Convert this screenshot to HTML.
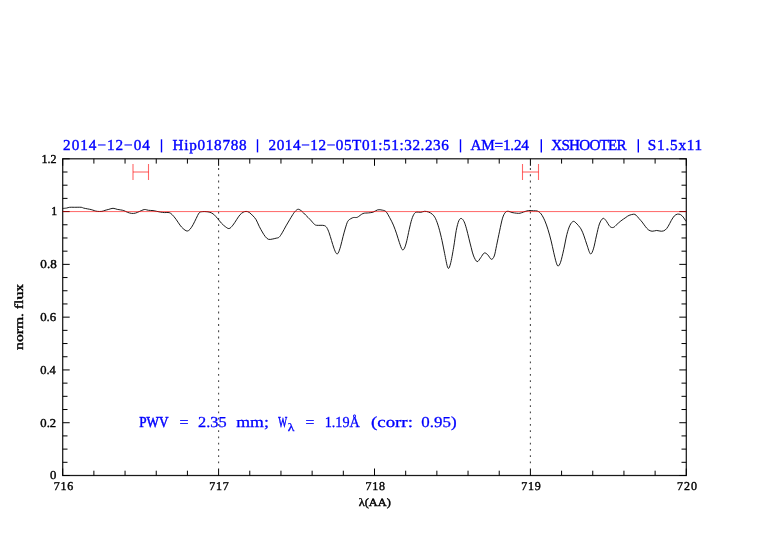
<!DOCTYPE html>
<html><head><meta charset="utf-8"><style>
html,body{margin:0;padding:0;background:#fff;width:782px;height:542px;overflow:hidden}
#w{position:absolute;left:0;top:0;will-change:transform}
svg{display:block;font-family:"Liberation Serif", serif;text-rendering:geometricPrecision}
</style></head><body>
<div id="w"><svg width="782" height="542" viewBox="0 0 782 542">
<rect x="62.7" y="158.8" width="623.5999999999999" height="316.7" fill="none" stroke="#1a1a1a" stroke-width="1.25"/>
<line x1="62.70" y1="475.5" x2="62.70" y2="468.5" stroke="#000" stroke-width="1.0"/>
<line x1="62.70" y1="158.8" x2="62.70" y2="165.8" stroke="#000" stroke-width="1.0"/>
<line x1="93.88" y1="475.5" x2="93.88" y2="470.7" stroke="#000" stroke-width="1.0"/>
<line x1="93.88" y1="158.8" x2="93.88" y2="163.60000000000002" stroke="#000" stroke-width="1.0"/>
<line x1="125.06" y1="475.5" x2="125.06" y2="470.7" stroke="#000" stroke-width="1.0"/>
<line x1="125.06" y1="158.8" x2="125.06" y2="163.60000000000002" stroke="#000" stroke-width="1.0"/>
<line x1="156.24" y1="475.5" x2="156.24" y2="470.7" stroke="#000" stroke-width="1.0"/>
<line x1="156.24" y1="158.8" x2="156.24" y2="163.60000000000002" stroke="#000" stroke-width="1.0"/>
<line x1="187.42" y1="475.5" x2="187.42" y2="470.7" stroke="#000" stroke-width="1.0"/>
<line x1="187.42" y1="158.8" x2="187.42" y2="163.60000000000002" stroke="#000" stroke-width="1.0"/>
<line x1="218.60" y1="475.5" x2="218.60" y2="468.5" stroke="#000" stroke-width="1.0"/>
<line x1="218.60" y1="158.8" x2="218.60" y2="165.8" stroke="#000" stroke-width="1.0"/>
<line x1="249.78" y1="475.5" x2="249.78" y2="470.7" stroke="#000" stroke-width="1.0"/>
<line x1="249.78" y1="158.8" x2="249.78" y2="163.60000000000002" stroke="#000" stroke-width="1.0"/>
<line x1="280.96" y1="475.5" x2="280.96" y2="470.7" stroke="#000" stroke-width="1.0"/>
<line x1="280.96" y1="158.8" x2="280.96" y2="163.60000000000002" stroke="#000" stroke-width="1.0"/>
<line x1="312.14" y1="475.5" x2="312.14" y2="470.7" stroke="#000" stroke-width="1.0"/>
<line x1="312.14" y1="158.8" x2="312.14" y2="163.60000000000002" stroke="#000" stroke-width="1.0"/>
<line x1="343.32" y1="475.5" x2="343.32" y2="470.7" stroke="#000" stroke-width="1.0"/>
<line x1="343.32" y1="158.8" x2="343.32" y2="163.60000000000002" stroke="#000" stroke-width="1.0"/>
<line x1="374.50" y1="475.5" x2="374.50" y2="468.5" stroke="#000" stroke-width="1.0"/>
<line x1="374.50" y1="158.8" x2="374.50" y2="165.8" stroke="#000" stroke-width="1.0"/>
<line x1="405.68" y1="475.5" x2="405.68" y2="470.7" stroke="#000" stroke-width="1.0"/>
<line x1="405.68" y1="158.8" x2="405.68" y2="163.60000000000002" stroke="#000" stroke-width="1.0"/>
<line x1="436.86" y1="475.5" x2="436.86" y2="470.7" stroke="#000" stroke-width="1.0"/>
<line x1="436.86" y1="158.8" x2="436.86" y2="163.60000000000002" stroke="#000" stroke-width="1.0"/>
<line x1="468.04" y1="475.5" x2="468.04" y2="470.7" stroke="#000" stroke-width="1.0"/>
<line x1="468.04" y1="158.8" x2="468.04" y2="163.60000000000002" stroke="#000" stroke-width="1.0"/>
<line x1="499.22" y1="475.5" x2="499.22" y2="470.7" stroke="#000" stroke-width="1.0"/>
<line x1="499.22" y1="158.8" x2="499.22" y2="163.60000000000002" stroke="#000" stroke-width="1.0"/>
<line x1="530.40" y1="475.5" x2="530.40" y2="468.5" stroke="#000" stroke-width="1.0"/>
<line x1="530.40" y1="158.8" x2="530.40" y2="165.8" stroke="#000" stroke-width="1.0"/>
<line x1="561.58" y1="475.5" x2="561.58" y2="470.7" stroke="#000" stroke-width="1.0"/>
<line x1="561.58" y1="158.8" x2="561.58" y2="163.60000000000002" stroke="#000" stroke-width="1.0"/>
<line x1="592.76" y1="475.5" x2="592.76" y2="470.7" stroke="#000" stroke-width="1.0"/>
<line x1="592.76" y1="158.8" x2="592.76" y2="163.60000000000002" stroke="#000" stroke-width="1.0"/>
<line x1="623.94" y1="475.5" x2="623.94" y2="470.7" stroke="#000" stroke-width="1.0"/>
<line x1="623.94" y1="158.8" x2="623.94" y2="163.60000000000002" stroke="#000" stroke-width="1.0"/>
<line x1="655.12" y1="475.5" x2="655.12" y2="470.7" stroke="#000" stroke-width="1.0"/>
<line x1="655.12" y1="158.8" x2="655.12" y2="163.60000000000002" stroke="#000" stroke-width="1.0"/>
<line x1="686.30" y1="475.5" x2="686.30" y2="468.5" stroke="#000" stroke-width="1.0"/>
<line x1="686.30" y1="158.8" x2="686.30" y2="165.8" stroke="#000" stroke-width="1.0"/>
<line x1="62.7" y1="475.50" x2="69.7" y2="475.50" stroke="#000" stroke-width="1.0"/>
<line x1="686.3" y1="475.50" x2="679.3" y2="475.50" stroke="#000" stroke-width="1.0"/>
<line x1="62.7" y1="462.30" x2="67.5" y2="462.30" stroke="#000" stroke-width="1.0"/>
<line x1="686.3" y1="462.30" x2="681.5" y2="462.30" stroke="#000" stroke-width="1.0"/>
<line x1="62.7" y1="449.11" x2="67.5" y2="449.11" stroke="#000" stroke-width="1.0"/>
<line x1="686.3" y1="449.11" x2="681.5" y2="449.11" stroke="#000" stroke-width="1.0"/>
<line x1="62.7" y1="435.91" x2="67.5" y2="435.91" stroke="#000" stroke-width="1.0"/>
<line x1="686.3" y1="435.91" x2="681.5" y2="435.91" stroke="#000" stroke-width="1.0"/>
<line x1="62.7" y1="422.72" x2="69.7" y2="422.72" stroke="#000" stroke-width="1.0"/>
<line x1="686.3" y1="422.72" x2="679.3" y2="422.72" stroke="#000" stroke-width="1.0"/>
<line x1="62.7" y1="409.52" x2="67.5" y2="409.52" stroke="#000" stroke-width="1.0"/>
<line x1="686.3" y1="409.52" x2="681.5" y2="409.52" stroke="#000" stroke-width="1.0"/>
<line x1="62.7" y1="396.32" x2="67.5" y2="396.32" stroke="#000" stroke-width="1.0"/>
<line x1="686.3" y1="396.32" x2="681.5" y2="396.32" stroke="#000" stroke-width="1.0"/>
<line x1="62.7" y1="383.13" x2="67.5" y2="383.13" stroke="#000" stroke-width="1.0"/>
<line x1="686.3" y1="383.13" x2="681.5" y2="383.13" stroke="#000" stroke-width="1.0"/>
<line x1="62.7" y1="369.93" x2="69.7" y2="369.93" stroke="#000" stroke-width="1.0"/>
<line x1="686.3" y1="369.93" x2="679.3" y2="369.93" stroke="#000" stroke-width="1.0"/>
<line x1="62.7" y1="356.74" x2="67.5" y2="356.74" stroke="#000" stroke-width="1.0"/>
<line x1="686.3" y1="356.74" x2="681.5" y2="356.74" stroke="#000" stroke-width="1.0"/>
<line x1="62.7" y1="343.54" x2="67.5" y2="343.54" stroke="#000" stroke-width="1.0"/>
<line x1="686.3" y1="343.54" x2="681.5" y2="343.54" stroke="#000" stroke-width="1.0"/>
<line x1="62.7" y1="330.35" x2="67.5" y2="330.35" stroke="#000" stroke-width="1.0"/>
<line x1="686.3" y1="330.35" x2="681.5" y2="330.35" stroke="#000" stroke-width="1.0"/>
<line x1="62.7" y1="317.15" x2="69.7" y2="317.15" stroke="#000" stroke-width="1.0"/>
<line x1="686.3" y1="317.15" x2="679.3" y2="317.15" stroke="#000" stroke-width="1.0"/>
<line x1="62.7" y1="303.95" x2="67.5" y2="303.95" stroke="#000" stroke-width="1.0"/>
<line x1="686.3" y1="303.95" x2="681.5" y2="303.95" stroke="#000" stroke-width="1.0"/>
<line x1="62.7" y1="290.76" x2="67.5" y2="290.76" stroke="#000" stroke-width="1.0"/>
<line x1="686.3" y1="290.76" x2="681.5" y2="290.76" stroke="#000" stroke-width="1.0"/>
<line x1="62.7" y1="277.56" x2="67.5" y2="277.56" stroke="#000" stroke-width="1.0"/>
<line x1="686.3" y1="277.56" x2="681.5" y2="277.56" stroke="#000" stroke-width="1.0"/>
<line x1="62.7" y1="264.37" x2="69.7" y2="264.37" stroke="#000" stroke-width="1.0"/>
<line x1="686.3" y1="264.37" x2="679.3" y2="264.37" stroke="#000" stroke-width="1.0"/>
<line x1="62.7" y1="251.17" x2="67.5" y2="251.17" stroke="#000" stroke-width="1.0"/>
<line x1="686.3" y1="251.17" x2="681.5" y2="251.17" stroke="#000" stroke-width="1.0"/>
<line x1="62.7" y1="237.98" x2="67.5" y2="237.98" stroke="#000" stroke-width="1.0"/>
<line x1="686.3" y1="237.98" x2="681.5" y2="237.98" stroke="#000" stroke-width="1.0"/>
<line x1="62.7" y1="224.78" x2="67.5" y2="224.78" stroke="#000" stroke-width="1.0"/>
<line x1="686.3" y1="224.78" x2="681.5" y2="224.78" stroke="#000" stroke-width="1.0"/>
<line x1="62.7" y1="211.58" x2="69.7" y2="211.58" stroke="#000" stroke-width="1.0"/>
<line x1="686.3" y1="211.58" x2="679.3" y2="211.58" stroke="#000" stroke-width="1.0"/>
<line x1="62.7" y1="198.39" x2="67.5" y2="198.39" stroke="#000" stroke-width="1.0"/>
<line x1="686.3" y1="198.39" x2="681.5" y2="198.39" stroke="#000" stroke-width="1.0"/>
<line x1="62.7" y1="185.19" x2="67.5" y2="185.19" stroke="#000" stroke-width="1.0"/>
<line x1="686.3" y1="185.19" x2="681.5" y2="185.19" stroke="#000" stroke-width="1.0"/>
<line x1="62.7" y1="172.00" x2="67.5" y2="172.00" stroke="#000" stroke-width="1.0"/>
<line x1="686.3" y1="172.00" x2="681.5" y2="172.00" stroke="#000" stroke-width="1.0"/>
<line x1="62.7" y1="158.80" x2="69.7" y2="158.80" stroke="#000" stroke-width="1.0"/>
<line x1="686.3" y1="158.80" x2="679.3" y2="158.80" stroke="#000" stroke-width="1.0"/>
<line x1="218.60" y1="168.1" x2="218.60" y2="467" stroke="#4a4a4a" stroke-width="1.1" stroke-dasharray="1.8 4.44"/>
<line x1="530.40" y1="168.1" x2="530.40" y2="467" stroke="#4a4a4a" stroke-width="1.1" stroke-dasharray="1.8 4.44"/>
<g stroke="#ff0000" stroke-width="1.1" stroke-opacity="0.6"><line x1="133" y1="164" x2="133" y2="180"/><line x1="148.5" y1="164" x2="148.5" y2="180"/><line x1="133" y1="172.0" x2="148.5" y2="172.0"/></g>
<g stroke="#ff0000" stroke-width="1.1" stroke-opacity="0.6"><line x1="522.5" y1="164" x2="522.5" y2="180"/><line x1="538.5" y1="164" x2="538.5" y2="180"/><line x1="522.5" y1="172.0" x2="538.5" y2="172.0"/></g>
<path d="M62.69,208.44 C63.34,208.38 65.44,208.25 66.60,208.06 C67.76,207.87 68.39,207.42 69.67,207.29 C70.95,207.16 72.36,207.29 74.28,207.29 C76.20,207.29 79.66,207.16 81.19,207.29 C82.72,207.42 82.47,207.80 83.49,208.06 C84.51,208.32 86.05,208.58 87.33,208.83 C88.61,209.09 90.01,209.30 91.16,209.59 C92.31,209.88 93.21,210.30 94.23,210.59 C95.25,210.88 96.02,211.23 97.30,211.36 C98.58,211.49 100.63,211.53 101.91,211.36 C103.19,211.19 103.83,210.69 104.98,210.36 C106.13,210.03 107.48,209.71 108.82,209.36 C110.16,209.02 111.63,208.29 113.04,208.29 C114.45,208.29 115.98,209.09 117.26,209.36 C118.54,209.63 119.61,209.69 120.71,209.90 C121.81,210.11 122.68,210.19 123.84,210.60 C125.00,211.01 126.39,211.90 127.67,212.36 C128.95,212.82 130.23,213.23 131.51,213.36 C132.79,213.49 134.07,213.43 135.35,213.13 C136.63,212.83 137.91,212.13 139.19,211.59 C140.47,211.05 142.00,210.25 143.02,209.90 C144.04,209.56 144.43,209.46 145.33,209.52 C146.23,209.59 147.12,210.11 148.40,210.29 C149.68,210.47 151.59,210.42 153.00,210.60 C154.41,210.78 155.56,211.11 156.84,211.36 C158.12,211.62 159.40,211.93 160.68,212.13 C161.96,212.33 163.10,212.51 164.51,212.59 C165.92,212.67 167.84,212.25 169.12,212.59 C170.40,212.94 171.04,213.55 172.19,214.66 C173.34,215.77 174.72,217.53 176.02,219.27 C177.32,221.01 178.82,223.56 180.00,225.11 C181.18,226.66 181.92,227.58 183.07,228.56 C184.22,229.54 185.76,230.88 186.91,231.01 C188.06,231.14 188.96,230.38 189.98,229.33 C191.00,228.28 192.03,226.51 193.05,224.72 C194.07,222.93 195.10,220.56 196.12,218.58 C197.14,216.60 198.17,213.98 199.19,212.83 C200.21,211.68 201.11,211.86 202.26,211.67 C203.41,211.48 204.81,211.57 206.09,211.67 C207.37,211.77 208.65,211.84 209.93,212.29 C211.21,212.74 212.49,213.31 213.77,214.36 C215.05,215.41 216.33,217.11 217.61,218.58 C218.89,220.05 220.16,221.85 221.44,223.19 C222.72,224.53 224.00,225.74 225.28,226.64 C226.56,227.53 227.84,228.81 229.12,228.56 C230.40,228.31 231.67,226.65 232.95,225.11 C234.23,223.58 235.61,221.08 236.79,219.35 C237.97,217.62 238.97,215.92 240.02,214.74 C241.07,213.56 242.09,212.86 243.10,212.30 C244.11,211.74 245.08,211.38 246.10,211.40 C247.12,211.42 248.05,211.65 249.20,212.40 C250.35,213.15 251.85,214.68 253.00,215.90 C254.15,217.12 255.07,217.97 256.10,219.70 C257.13,221.43 258.17,224.25 259.20,226.30 C260.23,228.35 261.28,230.28 262.30,232.00 C263.32,233.72 264.28,235.38 265.30,236.60 C266.32,237.82 267.25,238.88 268.40,239.30 C269.55,239.72 270.92,239.28 272.20,239.10 C273.48,238.92 274.95,238.52 276.10,238.20 C277.25,237.88 278.08,238.10 279.10,237.20 C280.12,236.30 281.05,234.68 282.20,232.80 C283.35,230.92 284.72,228.15 286.00,225.90 C287.28,223.65 288.62,221.42 289.90,219.30 C291.18,217.18 292.68,214.66 293.70,213.20 C294.72,211.74 295.22,211.18 296.00,210.53 C296.78,209.88 297.44,209.17 298.40,209.28 C299.36,209.39 300.56,210.24 301.76,211.20 C302.96,212.16 304.16,213.60 305.60,215.04 C307.04,216.48 308.96,218.31 310.40,219.83 C311.84,221.35 313.19,223.24 314.23,224.15 C315.27,225.06 315.51,225.12 316.63,225.31 C317.75,225.50 319.67,225.26 320.95,225.31 C322.23,225.36 323.35,225.22 324.31,225.59 C325.27,225.96 325.91,226.31 326.71,227.51 C327.51,228.71 328.31,230.63 329.11,232.79 C329.91,234.95 330.71,237.91 331.51,240.47 C332.31,243.03 333.11,245.99 333.91,248.15 C334.71,250.31 335.59,252.62 336.31,253.42 C337.03,254.22 337.51,254.14 338.23,252.94 C338.95,251.74 339.83,248.95 340.63,246.23 C341.43,243.51 342.22,239.67 343.02,236.63 C343.82,233.59 344.62,230.55 345.42,227.99 C346.22,225.43 346.90,222.83 347.82,221.27 C348.74,219.71 349.94,219.25 350.92,218.62 C351.90,217.99 352.61,217.74 353.69,217.51 C354.77,217.28 355.85,217.90 357.39,217.24 C358.93,216.58 361.08,214.26 362.93,213.54 C364.78,212.82 366.78,213.13 368.47,212.90 C370.16,212.67 371.54,212.67 373.08,212.16 C374.62,211.65 376.16,210.19 377.70,209.85 C379.24,209.51 380.94,209.82 382.32,210.13 C383.70,210.44 384.78,210.44 386.01,211.70 C387.24,212.96 388.47,215.47 389.70,217.70 C390.93,219.93 392.25,222.39 393.40,225.08 C394.55,227.77 395.63,230.94 396.63,233.86 C397.63,236.79 398.48,240.01 399.40,242.63 C400.32,245.25 401.32,248.63 402.17,249.55 C403.02,250.47 403.71,249.63 404.48,248.17 C405.25,246.71 406.01,243.85 406.79,240.78 C407.57,237.71 408.34,233.30 409.16,229.74 C409.99,226.18 410.88,222.11 411.74,219.42 C412.60,216.73 413.46,214.84 414.32,213.61 C415.18,212.38 415.82,212.28 416.90,212.06 C417.97,211.84 419.48,212.45 420.77,212.32 C422.06,212.19 423.36,211.33 424.65,211.29 C425.94,211.25 427.23,211.56 428.52,212.06 C429.81,212.56 431.21,213.14 432.39,214.26 C433.57,215.38 434.54,216.51 435.61,218.77 C436.69,221.03 437.76,224.15 438.84,227.81 C439.91,231.47 441.09,236.41 442.06,240.71 C443.03,245.01 443.68,249.09 444.65,253.61 C445.62,258.13 446.90,266.09 447.87,267.81 C448.84,269.53 449.48,267.38 450.45,263.94 C451.42,260.50 452.71,252.75 453.68,247.16 C454.65,241.57 455.40,234.80 456.26,230.39 C457.12,225.98 457.98,222.69 458.84,220.71 C459.70,218.73 460.54,218.35 461.42,218.52 C462.30,218.69 463.28,220.01 464.13,221.72 C464.98,223.43 465.71,226.05 466.50,228.80 C467.29,231.56 468.07,235.10 468.86,238.25 C469.65,241.40 470.43,244.75 471.22,247.70 C472.01,250.65 472.59,253.65 473.58,255.97 C474.56,258.29 475.95,261.34 477.13,261.64 C478.31,261.94 479.49,259.18 480.67,257.74 C481.85,256.30 483.03,253.50 484.21,253.01 C485.39,252.52 486.57,253.75 487.75,254.79 C488.93,255.83 490.22,259.07 491.30,259.27 C492.38,259.47 493.37,258.29 494.25,255.97 C495.13,253.65 495.72,249.47 496.61,245.34 C497.50,241.21 498.58,235.69 499.57,231.16 C500.56,226.63 501.54,221.32 502.52,218.17 C503.50,215.02 504.49,213.41 505.47,212.27 C506.45,211.13 507.34,211.28 508.42,211.32 C509.50,211.36 510.59,212.19 511.97,212.50 C513.35,212.81 515.35,213.09 516.69,213.21 C518.03,213.33 518.86,213.41 520.00,213.21 C521.14,213.02 522.11,212.48 523.53,212.04 C524.95,211.59 526.88,210.75 528.55,210.54 C530.22,210.33 532.11,210.71 533.57,210.79 C535.04,210.87 536.09,210.52 537.34,211.04 C538.60,211.56 539.85,212.29 541.10,213.92 C542.36,215.55 543.72,218.22 544.87,220.83 C546.02,223.45 546.97,226.26 548.01,229.61 C549.05,232.96 550.20,237.14 551.14,240.91 C552.08,244.68 552.82,248.65 553.66,252.21 C554.50,255.77 555.44,259.95 556.17,262.25 C556.90,264.55 557.32,266.01 558.05,266.01 C558.78,266.01 559.62,264.97 560.56,262.25 C561.50,259.53 562.65,254.30 563.70,249.70 C564.75,245.10 565.79,238.71 566.83,234.63 C567.88,230.55 568.92,227.41 569.97,225.22 C571.02,223.03 572.11,221.84 573.11,221.46 C574.11,221.08 574.67,221.69 575.98,222.94 C577.29,224.19 579.64,226.77 580.97,228.93 C582.30,231.09 582.96,233.24 583.96,235.90 C584.96,238.56 585.87,241.89 586.95,244.88 C588.03,247.87 589.36,253.19 590.44,253.85 C591.52,254.51 592.43,251.86 593.43,248.87 C594.43,245.88 595.42,240.06 596.42,235.90 C597.42,231.75 598.33,226.85 599.41,223.94 C600.49,221.03 601.82,219.04 602.90,218.46 C603.98,217.88 604.73,219.12 605.89,220.45 C607.05,221.78 608.63,225.27 609.88,226.43 C611.13,227.59 612.21,227.76 613.37,227.43 C614.53,227.10 615.61,225.52 616.86,224.44 C618.11,223.36 619.36,222.11 620.85,220.95 C622.35,219.79 624.46,218.39 625.83,217.46 C627.20,216.53 627.76,215.90 629.07,215.36 C630.38,214.82 632.52,214.25 633.67,214.21 C634.82,214.17 635.08,214.40 635.98,215.13 C636.88,215.86 638.03,217.43 639.05,218.58 C640.07,219.73 641.10,220.76 642.12,222.04 C643.14,223.32 644.17,224.98 645.19,226.26 C646.21,227.54 647.11,228.88 648.26,229.71 C649.41,230.54 650.68,231.11 652.09,231.24 C653.50,231.37 655.17,230.48 656.70,230.48 C658.24,230.48 659.89,231.31 661.30,231.24 C662.71,231.18 663.99,230.92 665.14,230.09 C666.29,229.26 667.19,227.86 668.21,226.26 C669.23,224.66 670.26,222.23 671.28,220.50 C672.30,218.77 673.33,216.96 674.35,215.90 C675.37,214.84 676.40,214.35 677.42,214.13 C678.44,213.91 679.53,214.10 680.49,214.59 C681.45,215.08 682.35,216.06 683.18,217.05 C684.01,218.04 685.00,219.78 685.48,220.50 C685.97,221.22 685.99,221.20 686.09,221.34" fill="none" stroke="#000" stroke-width="0.9"/>
<line x1="62.7" y1="211.58" x2="686.3" y2="211.58" stroke="#ff0000" stroke-width="1" opacity="0.6"/>
<text x="63.12" y="150.35" font-size="15.2" fill="#0000ff" stroke="#0000ff" stroke-width="0.4" text-anchor="start" textLength="86.69" lengthAdjust="spacing">2014&#8722;12&#8722;04</text>
<text x="172.55" y="150.35" font-size="15.2" fill="#0000ff" stroke="#0000ff" stroke-width="0.4" text-anchor="start" textLength="74.07" lengthAdjust="spacing">Hip018788</text>
<text x="268.52" y="150.35" font-size="15.2" fill="#0000ff" stroke="#0000ff" stroke-width="0.4" text-anchor="start" textLength="180.31" lengthAdjust="spacing">2014&#8722;12&#8722;05T01:51:32.236</text>
<text x="470.5" y="150.35" font-size="15.2" fill="#0000ff" stroke="#0000ff" stroke-width="0.4" text-anchor="start" textLength="58.36" lengthAdjust="spacing">AM=1.24</text>
<text x="551.31" y="150.35" font-size="15.2" fill="#0000ff" stroke="#0000ff" stroke-width="0.4" text-anchor="start" textLength="75.27" lengthAdjust="spacing">XSHOOTER</text>
<text x="647.87" y="150.35" font-size="15.2" fill="#0000ff" stroke="#0000ff" stroke-width="0.4" text-anchor="start" textLength="54.32" lengthAdjust="spacing">S1.5x11</text>
<text x="139.21" y="427.4" font-size="15.2" fill="#0000ff" stroke="#0000ff" stroke-width="0.5" text-anchor="start" textLength="29.26" lengthAdjust="spacingAndGlyphs">PWV</text>
<text x="179.4" y="427.4" font-size="15.2" fill="#0000ff" stroke="#0000ff" stroke-width="0.3" text-anchor="start" textLength="9.0" lengthAdjust="spacingAndGlyphs">=</text>
<text x="198.13" y="427.4" font-size="15.2" fill="#0000ff" stroke="#0000ff" stroke-width="0.3" text-anchor="start" textLength="28.53" lengthAdjust="spacingAndGlyphs">2.35</text>
<text x="236.25" y="427.4" font-size="15.2" fill="#0000ff" stroke="#0000ff" stroke-width="0.3" text-anchor="start" textLength="32.59" lengthAdjust="spacingAndGlyphs">mm;</text>
<text x="278.29" y="427.4" font-size="15.2" fill="#0000ff" stroke="#0000ff" stroke-width="0.5" text-anchor="start" textLength="8.88" lengthAdjust="spacingAndGlyphs">W</text>
<text x="287.81" y="431.4" font-size="11.2" fill="#0000ff" stroke="#0000ff" stroke-width="0.3" text-anchor="start" textLength="6.66" lengthAdjust="spacingAndGlyphs">&#955;</text>
<text x="305.52" y="427.4" font-size="15.2" fill="#0000ff" stroke="#0000ff" stroke-width="0.3" text-anchor="start" textLength="8.86" lengthAdjust="spacingAndGlyphs">=</text>
<text x="324.7" y="427.4" font-size="15.2" fill="#0000ff" stroke="#0000ff" stroke-width="0.3" text-anchor="start" textLength="35.21" lengthAdjust="spacingAndGlyphs">1.19&#197;</text>
<text x="370.97" y="427.4" font-size="15.2" fill="#0000ff" stroke="#0000ff" stroke-width="0.3" text-anchor="start" textLength="41.95" lengthAdjust="spacingAndGlyphs">(corr:</text>
<text x="421.34" y="427.4" font-size="15.2" fill="#0000ff" stroke="#0000ff" stroke-width="0.3" text-anchor="start" textLength="35.2" lengthAdjust="spacingAndGlyphs">0.95)</text>
<text x="53.82" y="490.3" font-size="12.0" fill="#000" stroke="#000" stroke-width="0.4" text-anchor="start" textLength="19.4" lengthAdjust="spacing">716</text>
<text x="209.22" y="490.3" font-size="12.0" fill="#000" stroke="#000" stroke-width="0.4" text-anchor="start" textLength="19.58" lengthAdjust="spacing">717</text>
<text x="365.42" y="490.3" font-size="12.0" fill="#000" stroke="#000" stroke-width="0.4" text-anchor="start" textLength="19.48" lengthAdjust="spacing">718</text>
<text x="521.32" y="490.3" font-size="12.0" fill="#000" stroke="#000" stroke-width="0.4" text-anchor="start" textLength="19.53" lengthAdjust="spacing">719</text>
<text x="677.02" y="490.3" font-size="12.0" fill="#000" stroke="#000" stroke-width="0.4" text-anchor="start" textLength="19.97" lengthAdjust="spacing">720</text>
<text x="358.67" y="506.2" font-size="11.2" fill="#000" stroke="#000" stroke-width="0.4" text-anchor="start" textLength="32.11" lengthAdjust="spacingAndGlyphs">&#955;(AA)</text>
<text x="49.99" y="479.3" font-size="12.1" fill="#000" stroke="#000" stroke-width="0.4" text-anchor="start" textLength="6.35" lengthAdjust="spacingAndGlyphs">0</text>
<text x="40.39" y="426.52" font-size="12.1" fill="#000" stroke="#000" stroke-width="0.4" text-anchor="start" textLength="15.82" lengthAdjust="spacingAndGlyphs">0.2</text>
<text x="40.19" y="373.73" font-size="12.1" fill="#000" stroke="#000" stroke-width="0.4" text-anchor="start" textLength="15.64" lengthAdjust="spacingAndGlyphs">0.4</text>
<text x="40.19" y="320.95" font-size="12.1" fill="#000" stroke="#000" stroke-width="0.4" text-anchor="start" textLength="16.04" lengthAdjust="spacingAndGlyphs">0.6</text>
<text x="40.39" y="268.17" font-size="12.1" fill="#000" stroke="#000" stroke-width="0.4" text-anchor="start" textLength="16.38" lengthAdjust="spacingAndGlyphs">0.8</text>
<text x="51.16" y="215.38" font-size="12.1" fill="#000" stroke="#000" stroke-width="0.4" text-anchor="start" textLength="5.91" lengthAdjust="spacingAndGlyphs">1</text>
<text x="41.45" y="162.6" font-size="12.1" fill="#000" stroke="#000" stroke-width="0.4" text-anchor="start" textLength="15.05" lengthAdjust="spacingAndGlyphs">1.2</text>
<line x1="161.5" y1="139.3" x2="161.5" y2="152.4" stroke="#0000ff" stroke-width="1.4"/>
<line x1="257.5" y1="139.3" x2="257.5" y2="152.4" stroke="#0000ff" stroke-width="1.4"/>
<line x1="460.5" y1="139.3" x2="460.5" y2="152.4" stroke="#0000ff" stroke-width="1.4"/>
<line x1="541.3" y1="139.3" x2="541.3" y2="152.4" stroke="#0000ff" stroke-width="1.4"/>
<line x1="638.3" y1="139.3" x2="638.3" y2="152.4" stroke="#0000ff" stroke-width="1.4"/>
<text x="0" y="0" font-size="12.2" fill="#000" stroke="#000" stroke-width="0.4" text-anchor="start" textLength="65.9" lengthAdjust="spacingAndGlyphs" transform="translate(22.8,349.9) rotate(-90)">norm. flux</text>
</svg></div>
</body></html>
